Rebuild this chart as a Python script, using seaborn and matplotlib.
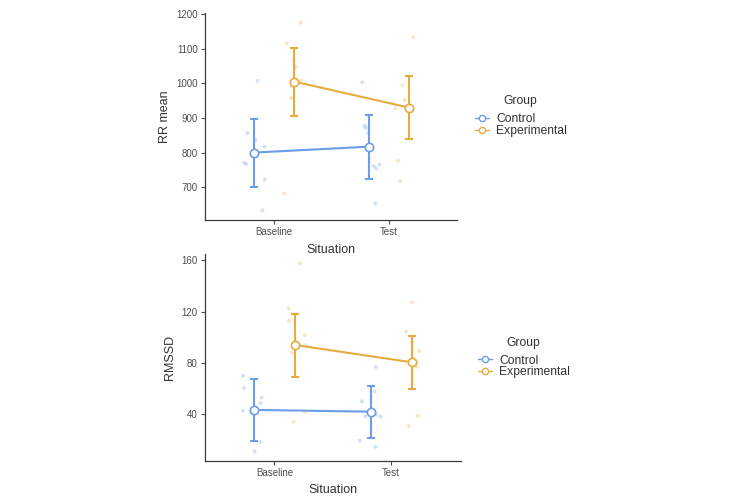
import numpy as np
import pandas as pd
import matplotlib
matplotlib.use("Agg")
import matplotlib.pyplot as plt
import seaborn as sns
from matplotlib.lines import Line2D

sns.set_theme(style="ticks")
plt.rcParams['font.family'] = ['Liberation Sans', 'DejaVu Sans']

situations = ["Baseline", "Test"]
groups = ["Control", "Experimental"]
colors = {"Control": "#6B9DE8", "Experimental": "#E6AC40"}

# ---- RR mean: group means and error-bar limits (Baseline, Test)
rr_mean = {"Control": [800, 817], "Experimental": [1005, 930]}
rr_low = {"Control": [700, 725], "Experimental": [905, 840]}
rr_high = {"Control": [898, 908], "Experimental": [1103, 1022]}

# raw observations: horizontal jittered position and value
rr_ctrl_base_x = [-0.14, -0.23, -0.16, -0.08, -0.26, -0.24, -0.08, -0.10]
rr_ctrl_base_y = [1007, 856, 836, 817, 771, 767, 722, 633]
rr_ctrl_test_x = [0.77, 0.79, 0.80, 0.82, 0.87, 0.92, 0.89, 0.885]
rr_ctrl_test_y = [1003, 877, 871, 857, 761, 765, 754, 653]
rr_exp_base_x = [0.23, 0.11, 0.17, 0.19, 0.24, 0.15, 0.15, 0.09]
rr_exp_base_y = [1175, 1115, 1068, 1047, 1009, 992, 958, 682]
rr_exp_test_x = [1.215, 1.12, 1.14, 1.06, 1.08, 1.10]
rr_exp_test_y = [1133, 994, 951, 928, 777, 718]

# ---- RMSSD
rm_mean = {"Control": [43.2, 41.8], "Experimental": [93.9, 80.4]}
rm_low = {"Control": [18.9, 20.9], "Experimental": [69.2, 59.8]}
rm_high = {"Control": [67.4, 61.9], "Experimental": [118.1, 100.9]}

rm_ctrl_base_x = [-0.27, -0.26, -0.27, -0.20, -0.11, -0.12, -0.12, -0.17]
rm_ctrl_base_y = [69.7, 60.3, 42.6, 41.6, 52.8, 48.6, 18.2, 10.9]
rm_ctrl_test_x = [0.87, 0.86, 0.75, 0.78, 0.87, 0.91, 0.73, 0.866]
rm_ctrl_test_y = [76.7, 57.7, 49.9, 37.9, 39.5, 37.9, 19.2, 14.3]
rm_exp_base_x = [0.22, 0.12, 0.125, 0.26, 0.27, 0.15, 0.165, 0.26]
rm_exp_base_y = [157.4, 122.5, 112.9, 101.4, 93.6, 87.9, 34.0, 41.6]
rm_exp_test_x = [1.18, 1.13, 1.18, 1.24, 1.22, 1.23, 1.15]
rm_exp_test_y = [127.2, 104.3, 96.0, 89.2, 77.0, 38.5, 30.7]

DODGE = 0.175

W, H = 733, 496
fig = plt.figure(figsize=(W / 100, H / 100), dpi=100)


def box(left, top, right, bottom):
    return [left / W, 1 - bottom / H, (right - left) / W, (bottom - top) / H]


ax1 = fig.add_axes(box(205, 13.3, 457, 219.8))
ax2 = fig.add_axes(box(204.5, 254.3, 460.5, 460.6))

spine_col = "#3a3a3a"
tick_col = "#4d4d4d"


def raw_frame(parts):
    rows = []
    for g, xs, ys in parts:
        for x, y in zip(xs, ys):
            rows.append({"x": x, "y": y, "Group": g})
    return pd.DataFrame(rows)


def draw(ax, parts, means, lows, highs, ylim, yticks, ylabel):
    raw = raw_frame(parts)
    sns.scatterplot(data=raw, x="x", y="y", hue="Group", palette=colors,
                    hue_order=groups, s=8, alpha=0.3, linewidth=0,
                    legend=False, ax=ax, zorder=1)
    for g, sign in zip(groups, [-1, 1]):
        xs = np.arange(len(situations)) + sign * DODGE
        m = np.array(means[g])
        lo = np.array(lows[g])
        hi = np.array(highs[g])
        ax.errorbar(xs, m, yerr=[m - lo, hi - m], fmt="none",
                    ecolor=colors[g], elinewidth=1.5, capsize=3,
                    capthick=1.5, zorder=2)
        df = pd.DataFrame({"x": xs, "y": m})
        sns.lineplot(data=df, x="x", y="y", color=colors[g], lw=1.5,
                     ax=ax, zorder=3, legend=False)
        ax.plot(xs, m, "o", ms=6, mfc="white", mec=colors[g], mew=1.2,
                zorder=4)
    ax.set_xlim(-0.6, 1.595)
    ax.set_ylim(*ylim)
    ax.set_xticks(range(len(situations)))
    ax.set_xticklabels(situations)
    ax.set_yticks(yticks)
    ax.set_xlabel("Situation", fontsize=9, color="#333333", labelpad=5)
    ax.set_ylabel(ylabel, fontsize=9, color="#333333", labelpad=4)
    ax.tick_params(axis="both", labelsize=7, colors=tick_col, length=3,
                   width=0.8, pad=2)
    for sp in ["top", "right"]:
        ax.spines[sp].set_visible(False)
    for sp in ["left", "bottom"]:
        ax.spines[sp].set_color(spine_col)
        ax.spines[sp].set_linewidth(0.9)
    ax.set_facecolor("white")


draw(ax1,
     [("Control", rr_ctrl_base_x, rr_ctrl_base_y),
      ("Control", rr_ctrl_test_x, rr_ctrl_test_y),
      ("Experimental", rr_exp_base_x, rr_exp_base_y),
      ("Experimental", rr_exp_test_x, rr_exp_test_y)],
     rr_mean, rr_low, rr_high, (606, 1202),
     [700, 800, 900, 1000, 1100, 1200], "RR mean")

draw(ax2,
     [("Control", rm_ctrl_base_x, rm_ctrl_base_y),
      ("Control", rm_ctrl_test_x, rm_ctrl_test_y),
      ("Experimental", rm_exp_base_x, rm_exp_base_y),
      ("Experimental", rm_exp_test_x, rm_exp_test_y)],
     rm_mean, rm_low, rm_high, (3.6, 164.7),
     [40, 80, 120, 160], "RMSSD")


def legend(ax, x, y, tx, ty):
    handles = [Line2D([0], [0], color=colors[g], lw=1, marker="o", ms=4.5,
                      mfc="white", mec=colors[g], mew=1) for g in groups]
    leg = ax.legend(handles, groups, loc="center left",
                    bbox_to_anchor=(x / W, 1 - y / H),
                    bbox_transform=fig.transFigure, frameon=False,
                    handlelength=1.15, handletextpad=0.6, labelspacing=0.0,
                    fontsize=8.7, borderaxespad=0, borderpad=0)
    for t in leg.get_texts():
        t.set_color("#333333")
    fig.text(tx / W, 1 - ty / H, "Group", ha="center", va="center",
             fontsize=8.7, color="#333333")


legend(ax1, 475, 125, 520, 101)
legend(ax2, 478, 366.5, 523, 343)

fig.savefig("out.png", dpi=100, facecolor="white")
